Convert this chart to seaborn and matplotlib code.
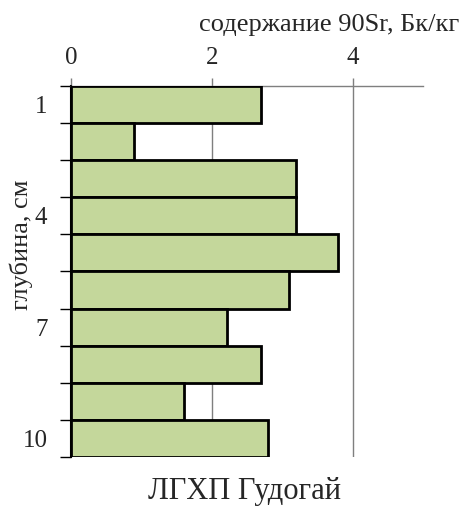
import numpy as np
import pandas as pd
import matplotlib
matplotlib.use("Agg")
import matplotlib.pyplot as plt
import seaborn as sns

depth = [1, 2, 3, 4, 5, 6, 7, 8, 9, 10]
sr90 = [2.70, 0.90, 3.19, 3.19, 3.79, 3.09, 2.21, 2.70, 1.60, 2.80]
depth_ticks = [1, 4, 7, 10]
value_ticks = [0, 2, 4]

df = pd.DataFrame({"depth": depth, "sr90": sr90})

sns.set_style("white")
plt.rcParams["font.family"] = ["Liberation Serif", "DejaVu Serif"]

fig = plt.figure(figsize=(4.62, 5.11), dpi=100)
ax = fig.add_axes([0.1537, 0.1057, 0.7619, 0.726])

sns.barplot(
    data=df, x="sr90", y="depth", orient="h", native_scale=True,
    width=1.0, color="#c4d79b", edgecolor="black", linewidth=2,
    saturation=1, ax=ax, zorder=3,
)

ax.set_xlim(0, 5)
ax.set_ylim(10.5, 0.5)
ax.xaxis.tick_top()
ax.set_xticks(value_ticks)
ax.tick_params(axis="x", labelsize=18, length=6, pad=6, color="#7f7f7f", width=1)
ax.set_yticks(depth_ticks)
ax.set_yticks(np.arange(0.5, 11.0, 1.0), minor=True)
ax.tick_params(axis="y", which="major", length=0, labelsize=18, pad=17)
ax.tick_params(axis="y", which="minor", length=8, width=1, color="black", left=True)
ax.grid(axis="x", color="#7f7f7f", linewidth=1)
ax.set_axisbelow(True)

for side in ["right", "bottom"]:
    ax.spines[side].set_visible(False)
ax.spines["top"].set_color("#7f7f7f")
ax.spines["top"].set_linewidth(1)
ax.spines["left"].set_color("black")
ax.spines["left"].set_linewidth(1.5)

ax.set_xlabel("")
ax.set_ylabel("")
fig.text(329 / 462, 1 - 25 / 511, "содержание 90Sr, Бк/кг", ha="center", va="center", fontsize=19)
fig.text(21 / 462, 1 - 245 / 511, "глубина, см", ha="center", va="center", rotation=90, fontsize=19)
fig.text(245 / 462, 1 - 491 / 511, "ЛГХП Гудогай", ha="center", va="center", fontsize=22)

fig.savefig("out.png", dpi=100)
